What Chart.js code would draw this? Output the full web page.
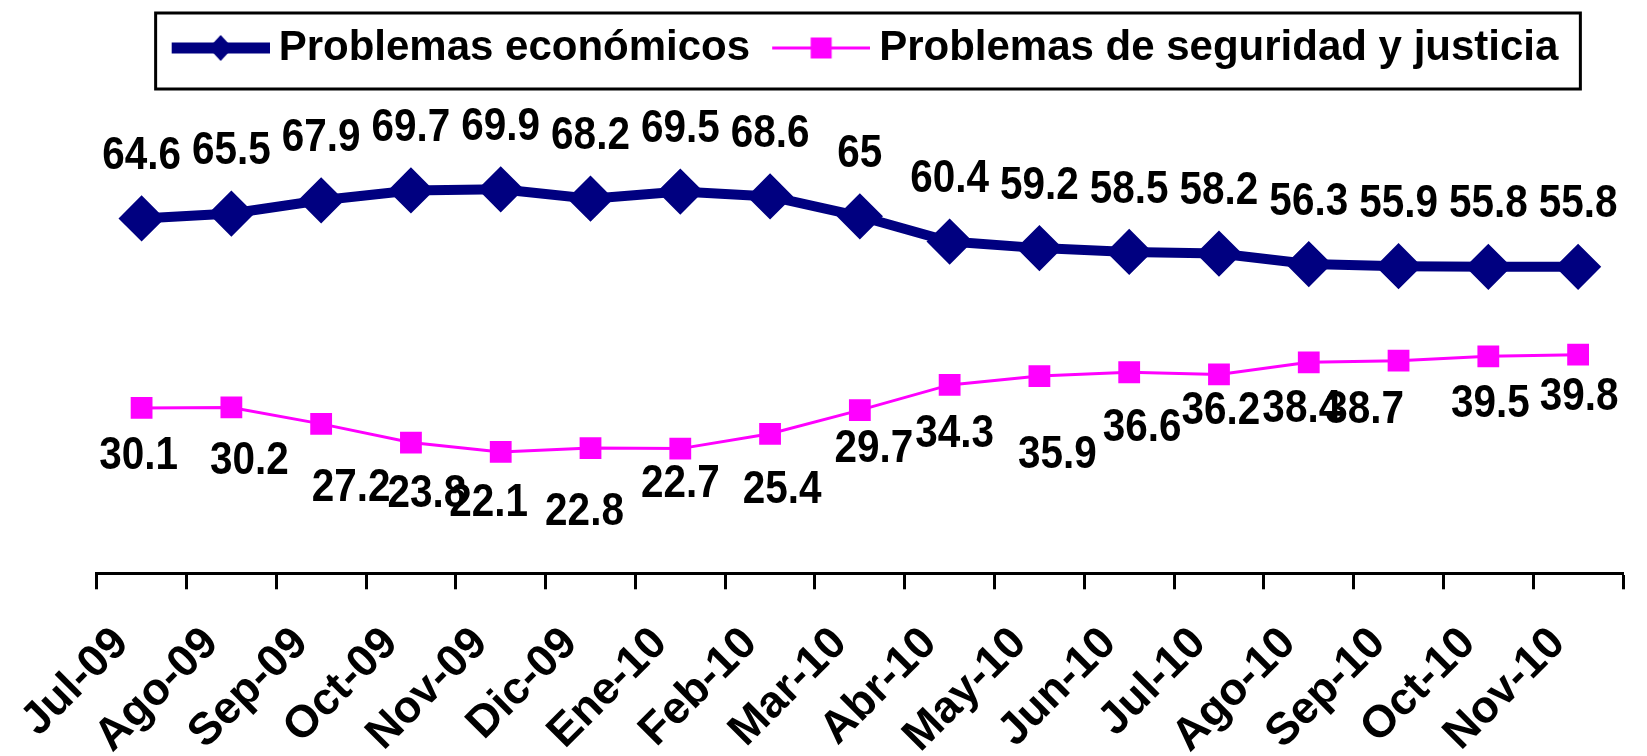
<!DOCTYPE html>
<html>
<head>
<meta charset="utf-8">
<title>Problemas económicos y de seguridad</title>
<script src="https://cdn.jsdelivr.net/npm/chart.js@4/dist/chart.umd.min.js"></script>
<style>
  html, body { margin: 0; padding: 0; background: #ffffff; }
  canvas { display: block; }
</style>
</head>
<body>
<canvas id="chart" width="1647" height="756"></canvas>
<script>
// Monthly categories
const months = ['Jul-09', 'Ago-09', 'Sep-09', 'Oct-09', 'Nov-09', 'Dic-09', 'Ene-10', 'Feb-10',
  'Mar-10', 'Abr-10', 'May-10', 'Jun-10', 'Jul-10', 'Ago-10', 'Sep-10', 'Oct-10', 'Nov-10'];

// Series values (%)
const economicos = [64.6, 65.5, 67.9, 69.7, 69.9, 68.2, 69.5, 68.6, 65, 60.4, 59.2, 58.5, 58.2, 56.3, 55.9, 55.8, 55.8];
const seguridad = [30.1, 30.2, 27.2, 23.8, 22.1, 22.8, 22.7, 25.4, 29.7, 34.3, 35.9, 36.6, 36.2, 38.4, 38.7, 39.5, 39.8];

const seriesNames = ['Problemas económicos', 'Problemas de seguridad y justicia'];

// Hand-placed value labels of the security series: nudge from the marker, in px
const segLabelDx = [-3, 18, 30, 16, -12, -6, 0, 12, 14, 5, 18, 13, 2, -7, -34, 2, 1];
const segLabelDy = [48, 54, 64, 52, 51, 64, 36, 57, 39, 49, 79, 56, 37, 47, 50, 48, 43];

const NAVY = '#000080';
const PINK = '#FF00FF';
const FONT = "'Liberation Sans', Arial, sans-serif";

// Legend swatches: line with its marker
function makeSwatch(kind) {
  const c = document.createElement('canvas');
  c.width = 110; c.height = 30;
  const g = c.getContext('2d');
  const x0 = 12, x1 = 110, cy = 15, cx = (x0 + x1) / 2;
  if (kind === 'diamond') {
    g.fillStyle = NAVY;
    g.fillRect(x0, cy - 5.5, x1 - x0, 11);
    g.beginPath();
    g.moveTo(cx - 12, cy); g.lineTo(cx, cy - 13); g.lineTo(cx + 12, cy); g.lineTo(cx, cy + 13);
    g.closePath(); g.fill();
  } else {
    g.fillStyle = PINK;
    g.fillRect(x0, cy - 1.5, x1 - x0, 3);
    g.fillRect(cx - 10.5, cy - 10.5, 21, 21);
  }
  return c;
}
const swatches = [makeSwatch('diamond'), makeSwatch('square')];

// Value labels drawn next to each marker (slightly condensed bold face)
function drawValue(ctx, text, x, y) {
  ctx.save();
  ctx.translate(x, y);
  ctx.scale(0.88, 1);
  ctx.fillText(text, 0, 0);
  ctx.restore();
}
const valueLabels = {
  id: 'valueLabels',
  afterDatasetsDraw(chart) {
    const ctx = chart.ctx;
    ctx.save();
    ctx.font = 'bold 46px ' + FONT;
    ctx.fillStyle = '#000000';
    ctx.textAlign = 'center';
    ctx.textBaseline = 'middle';
    chart.getDatasetMeta(0).data.forEach((pt, i) => {
      drawValue(ctx, String(economicos[i]), pt.x, pt.y - 62);
    });
    chart.getDatasetMeta(1).data.forEach((pt, i) => {
      drawValue(ctx, String(seguridad[i]), pt.x + segLabelDx[i], pt.y + segLabelDy[i]);
    });
    ctx.restore();
  }
};

// Legend floats over the top of the plot and gets a black frame
const legendFrame = {
  id: 'legendFrame',
  beforeLayout(chart) {
    const lg = chart.legend;
    if (lg && !lg._overlay) {
      const fit = lg.fit;
      lg.fit = function () { fit.call(this); this.height = 19; };
      lg._overlay = true;
    }
  },
  afterLayout(chart) {
    const lg = chart.legend;
    if (lg) { lg.height = 100; lg.bottom = lg.top + 100; }
  },
  afterDraw(chart) {
    const lg = chart.legend;
    if (!lg || !lg.legendHitBoxes || !lg.legendHitBoxes.length) return;
    const hb = lg.legendHitBoxes;
    const first = hb[0], last = hb[hb.length - 1];
    const left = first.left - 16;
    const right = last.left + last.width + 22;
    const top = first.top - 14;
    const bottom = first.top + first.height + 20;
    const ctx = chart.ctx;
    ctx.save();
    ctx.strokeStyle = '#000000';
    ctx.lineWidth = 3;
    ctx.strokeRect(left, top, right - left, bottom - top);
    ctx.restore();
  }
};

new Chart(document.getElementById('chart'), {
  type: 'line',
  data: {
    labels: months,
    datasets: [
      {
        label: seriesNames[0],
        data: economicos,
        borderColor: NAVY,
        backgroundColor: NAVY,
        borderWidth: 10,
        pointStyle: 'rectRot',
        pointRadius: 21,
        pointBorderWidth: 3,
        pointBackgroundColor: NAVY,
        pointBorderColor: NAVY,
        tension: 0,
        fill: false
      },
      {
        label: seriesNames[1],
        data: seguridad,
        borderColor: PINK,
        backgroundColor: PINK,
        borderWidth: 3,
        pointStyle: 'rect',
        pointRadius: 14,
        pointBorderWidth: 2,
        pointBackgroundColor: PINK,
        pointBorderColor: PINK,
        tension: 0,
        fill: false
      }
    ]
  },
  options: {
    responsive: false,
    animation: false,
    devicePixelRatio: 1,
    layout: { padding: { left: 96.7, right: 13.7, top: 0, bottom: 0 } },
    plugins: {
      tooltip: { enabled: false },
      legend: {
        display: true,
        position: 'top',
        align: 'center',
        labels: {
          usePointStyle: true,
          pointStyleWidth: 86,
          padding: 22,
          color: '#000000',
          font: { family: FONT, size: 42, weight: 'bold' },
          generateLabels(chart) {
            const items = Chart.defaults.plugins.legend.labels.generateLabels(chart);
            items.forEach((it, i) => { it.pointStyle = swatches[i]; });
            return items;
          }
        }
      }
    },
    scales: {
      x: {
        type: 'category',
        offset: true,
        afterFit(scale) {
          scale.height = 182.7;
          scale.paddingLeft = 0;
          scale.paddingRight = 0;
        },
        grid: {
          display: true,
          offset: true,
          drawOnChartArea: false,
          drawTicks: true,
          tickLength: 16,
          tickWidth: 3,
          tickColor: '#000000'
        },
        border: { display: true, color: '#000000', width: 3 },
        ticks: {
          autoSkip: false,
          minRotation: 45,
          maxRotation: 45,
          labelOffset: -20,
          padding: 28,
          color: '#000000',
          font: { family: FONT, size: 45, weight: 'bold' }
        }
      },
      y: {
        display: false,
        min: 0,
        max: 100
      }
    }
  },
  plugins: [legendFrame, valueLabels]
});
</script>
</body>
</html>
